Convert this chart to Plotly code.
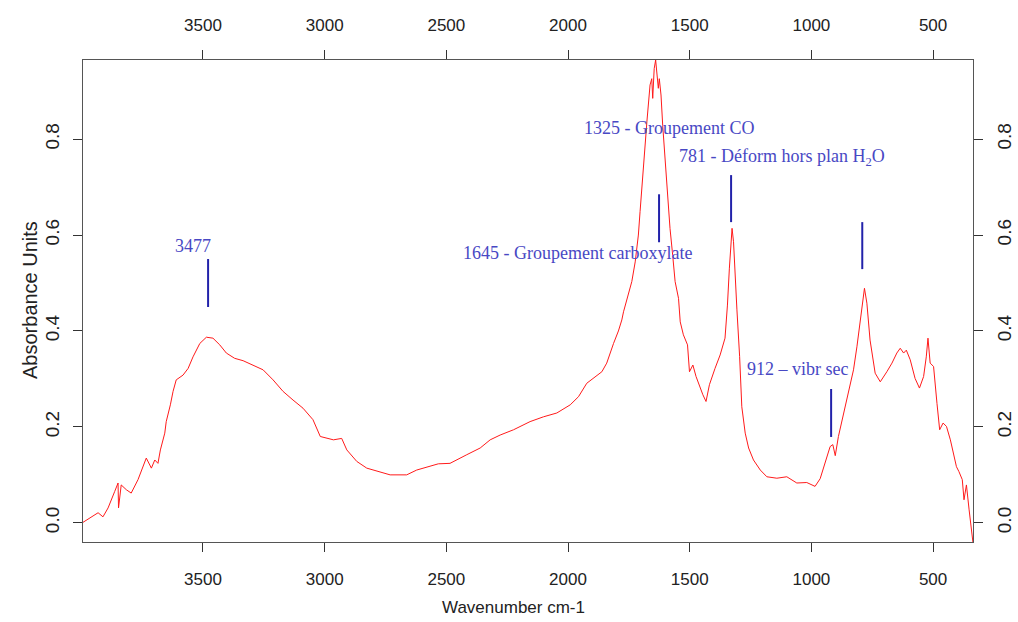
import plotly.graph_objects as go

wavenumber = [3993, 3931, 3911, 3890, 3863, 3849, 3847, 3836, 3815, 3795, 3767, 3753, 3733, 3712, 3698, 3685,
              3675, 3657, 3651, 3634, 3623, 3610, 3582, 3561, 3541, 3513, 3486, 3459, 3431, 3404, 3370, 3335,
              3294, 3253, 3212, 3171, 3130, 3089, 3048, 3018, 2964, 2930, 2909, 2868, 2827, 2779, 2731, 2663,
              2622, 2533, 2485, 2416, 2361, 2320, 2279, 2224, 2156, 2101, 2046, 1991, 1957, 1923, 1882, 1861,
              1841, 1827, 1813, 1793, 1779, 1772, 1758, 1738, 1724, 1711, 1704, 1697, 1690, 1683, 1676, 1663,
              1656, 1652, 1646, 1640, 1633, 1629, 1625, 1618, 1611, 1602, 1594, 1581, 1570, 1560, 1546, 1539,
              1526, 1509, 1501, 1487, 1474, 1457, 1446, 1433, 1419, 1396, 1375, 1355, 1345, 1337, 1330, 1326,
              1320, 1313, 1306, 1295, 1286, 1272, 1258, 1238, 1210, 1183, 1142, 1101, 1060, 1019, 985, 964,
              943, 923, 912, 902, 889, 868, 848, 827, 813, 800, 789, 782, 772, 759, 738, 717,
              690, 669, 649, 635, 621, 610, 594, 574, 556, 539, 528, 521, 512, 498, 484, 473,
              459, 445, 429, 415, 404, 394, 380, 373, 363, 352, 346, 336]
absorbance = [0.001, 0.021, 0.0125, 0.031, 0.065, 0.083, 0.031, 0.079, 0.069, 0.062, 0.090, 0.107, 0.135, 0.114, 0.131, 0.124,
              0.152, 0.187, 0.211, 0.246, 0.274, 0.298, 0.308, 0.322, 0.346, 0.374, 0.387, 0.385, 0.371, 0.354, 0.343, 0.338,
              0.329, 0.319, 0.298, 0.274, 0.256, 0.239, 0.215, 0.180, 0.173, 0.176, 0.152, 0.128, 0.114, 0.107, 0.100, 0.100,
              0.110, 0.123, 0.124, 0.142, 0.156, 0.173, 0.183, 0.194, 0.211, 0.221, 0.229, 0.246, 0.263, 0.291, 0.308, 0.315,
              0.333, 0.355, 0.374, 0.400, 0.423, 0.440, 0.465, 0.503, 0.544, 0.600, 0.649, 0.697, 0.753, 0.801, 0.836, 0.913,
              0.926, 0.885, 0.947, 0.965, 0.933, 0.906, 0.926, 0.892, 0.829, 0.767, 0.697, 0.614, 0.558, 0.503, 0.468, 0.419,
              0.392, 0.371, 0.315, 0.329, 0.305, 0.281, 0.267, 0.253, 0.288, 0.322, 0.350, 0.385, 0.454, 0.531, 0.586, 0.614,
              0.586, 0.503, 0.444, 0.347, 0.242, 0.187, 0.156, 0.131, 0.110, 0.096, 0.093, 0.096, 0.083, 0.084, 0.076, 0.092,
              0.124, 0.159, 0.163, 0.140, 0.180, 0.228, 0.270, 0.319, 0.367, 0.423, 0.471, 0.489, 0.458, 0.381, 0.312, 0.294,
              0.315, 0.333, 0.354, 0.364, 0.354, 0.360, 0.340, 0.301, 0.281, 0.305, 0.346, 0.385, 0.333, 0.326, 0.249, 0.194,
              0.208, 0.201, 0.173, 0.145, 0.117, 0.107, 0.090, 0.048, 0.079, 0.027, 0.000, -0.042]

x_ticks = [3500, 3000, 2500, 2000, 1500, 1000, 500]
y_ticks = [0.0, 0.2, 0.4, 0.6, 0.8]

# peak markers: (wavenumber, y bottom, y top)
marker_x = [3479, 1626, 1330, 791, 919]
marker_y0 = [0.45, 0.585, 0.627, 0.529, 0.179]
marker_y1 = [0.55, 0.685, 0.725, 0.627, 0.279]

labels = ["3477", "1645 - Groupement carboxylate", "1325 - Groupement CO",
          "781 - Déform hors plan H<sub>2</sub>O", "912 – vibr sec"]

X_RANGE = [3993, 336]
Y_RANGE = [-0.040, 0.965]

fig = go.Figure()
fig.add_trace(go.Scatter(x=wavenumber, y=absorbance, mode="lines",
                         line=dict(color="#ff1a1a", width=1), showlegend=False, hoverinfo="skip"))
fig.add_trace(go.Scatter(x=[X_RANGE[0]], y=[Y_RANGE[0]], xaxis="x2", yaxis="y2", mode="markers",
                         marker=dict(opacity=0), showlegend=False, hoverinfo="skip"))

tick_font = dict(family="Liberation Sans, Arial, sans-serif", size=17, color="#222")
ytick_font = dict(family="Liberation Sans, Arial, sans-serif", size=19, color="#222")
axis_common = dict(showgrid=False, zeroline=False, showline=True, linecolor="#555", linewidth=1,
                   ticks="outside", tickcolor="#333", ticklen=9, tickwidth=1, automargin=False)

fig.update_layout(
    width=1018, height=622,
    margin=dict(l=83, r=45, t=60, b=80, autoexpand=False),
    paper_bgcolor="white", plot_bgcolor="white",
    xaxis=dict(range=X_RANGE, tickvals=x_ticks, tickfont=tick_font, side="bottom",
               ticklabelstandoff=13, **axis_common),
    xaxis2=dict(range=X_RANGE, tickvals=x_ticks, tickfont=tick_font, side="top",
                overlaying="x", ticklabelstandoff=12, **axis_common),
    yaxis=dict(range=Y_RANGE, tickvals=y_ticks, tickformat=".1f", tickangle=-90,
               tickfont=ytick_font, side="left", ticklabelstandoff=6, **axis_common),
    yaxis2=dict(range=Y_RANGE, tickvals=y_ticks, tickformat=".1f", tickangle=-90,
                tickfont=ytick_font, side="right", overlaying="y", ticklabelstandoff=5, **axis_common),
)

for xv, y0, y1 in zip(marker_x, marker_y0, marker_y1):
    fig.add_shape(type="line", xref="x", yref="y", x0=xv, x1=xv, y0=y0, y1=y1,
                  line=dict(color="#2222aa", width=2))

label_font = dict(family="Liberation Serif, Times New Roman, serif", size=18, color="#4848c4")
label_pos = [  # (x, y, xanchor)
    (3541, 0.577, "center"),
    (1482, 0.5625, "right"),
    (1942, 0.823, "left"),
    (1552, 0.7625, "left"),
    (1272, 0.321, "left"),
]
for text, (lx, ly, anc) in zip(labels, label_pos):
    fig.add_annotation(x=lx, y=ly, xref="x", yref="y", text=text, showarrow=False,
                       xanchor=anc, yanchor="middle", font=label_font)

fig.add_annotation(x=0.484, y=-0.135, xref="paper", yref="paper", text="Wavenumber cm-1",
                   showarrow=False, xanchor="center", yanchor="middle",
                   font=dict(family="Liberation Sans, Arial, sans-serif", size=17, color="#222"))
fig.add_annotation(x=-0.0596, y=0.502, xref="paper", yref="paper", text="Absorbance Units",
                   showarrow=False, xanchor="center", yanchor="middle", textangle=-90,
                   font=dict(family="Liberation Sans, Arial, sans-serif", size=20, color="#222"))

fig.write_html("out.html", config={"displayModeBar": False},
               post_script="document.body.style.margin='0';document.body.style.overflow='hidden';")
